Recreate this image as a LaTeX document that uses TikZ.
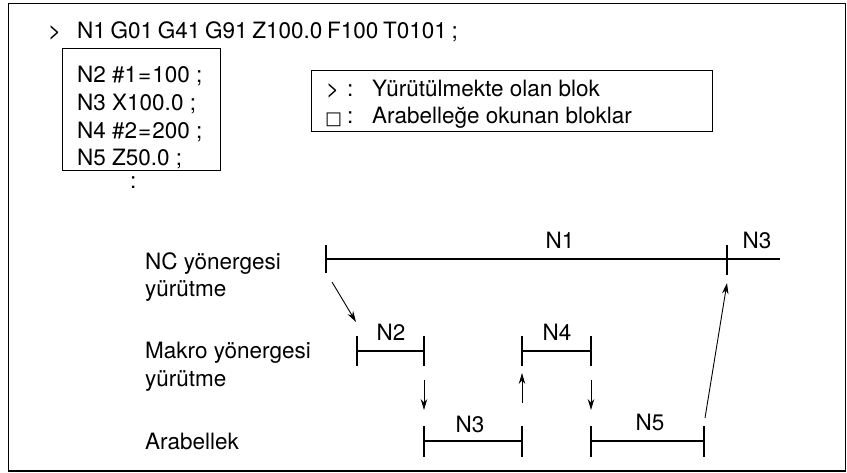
\documentclass[tikz,border=0pt]{standalone}
\usepackage{fontspec}
\setmainfont{TeX Gyre Heros}
\newfontfamily\symfont{DejaVu Sans}
\usetikzlibrary{arrows.meta}
\begin{document}
\begin{tikzpicture}[x=1pt,y=-1pt,
  txt/.style={anchor=base west,inner sep=0pt,font=\fontsize{22.5}{27}\selectfont},
  lbl/.style={anchor=base,inner sep=0pt,font=\fontsize{22.5}{27}\selectfont},
  boxline/.style={draw,line width=1pt},
  tl/.style={line width=2pt},
  arr/.style={line width=0.9pt,-{Stealth[length=11pt,width=6.5pt]}}]
\useasboundingbox (0,0) rectangle (847,473);
\draw[line width=1.2pt] (8.5,3.5) rectangle (845.5,471);
% top program
\node[txt] (cur) at (48,39) {>};
\node[txt] (l1) at (77,39) {\spaceskip=0.21em N1 G01 G41 G91 Z100.0 F100 T0101 ;};
\draw[boxline] (62,49) rectangle (220,171);
\node[txt] (l2) at (77,83) {N2 \#1\kern1pt=\kern1pt100 ;};
\node[txt] (l3) at (77,111) {N3 X100.0 ;};
\node[txt] (l4) at (77,139) {N4 \#2\kern1pt=\kern1pt200 ;};
\node[txt] (l5) at (77,166) {N5 Z50.0 ;};
\node[txt] (dots) at (130,189) {:};
% legend
\draw[boxline] (311,71) rectangle (712,132);
\node[txt] (lg1a) at (326,97) {>};
\node[txt] (lg1b) at (347,97) {:};
\node[txt] (lg1c) at (372,97) {Yürütülmekte olan blok};
\node[txt,font=\symfont\fontsize{18}{22}\selectfont] (lg2a) at (325,125) {□};
\node[txt] (lg2b) at (347,124) {:};
\node[txt] (lg2c) at (372,124) {Arabelleğe okunan bloklar};
% row labels
\node[txt] (r1a) at (145,270) {NC yönergesi};
\node[txt] (r1b) at (145,297) {yürütme};
\node[txt] (r2a) at (145,359) {Makro yönergesi};
\node[txt] (r2b) at (145,386) {yürütme};
\node[txt] (r3) at (145,449) {Arabellek};
% NC timeline
\coordinate (ncL) at (326,259);
\coordinate (ncT) at (727,259);
\coordinate (ncR) at (780,259);
\draw[tl] (ncL) -- (ncR);
\draw[tl] (326,245) -- (326,273);
\draw[tl] (727,245) -- (727,275);
\node[lbl] (tN1) at (560,249) {N1};
\node[lbl] (tN3a) at (757,249) {N3};
% macro timeline
\draw[tl] (357,351) -- (424,351);
\draw[tl] (357,336) -- (357,366);
\draw[tl] (424,336) -- (424,366);
\node[lbl] (tN2) at (391,341) {N2};
\draw[tl] (522,351) -- (591,351);
\draw[tl] (522,336) -- (522,366);
\draw[tl] (591,336) -- (591,366);
\node[lbl] (tN4) at (557,341) {N4};
% buffer timeline
\draw[tl] (424,441) -- (522,441);
\draw[tl] (424,426) -- (424,457);
\draw[tl] (522,426) -- (522,457);
\node[lbl] (tN3) at (470,432) {N3};
\draw[tl] (591,441) -- (704,441);
\draw[tl] (591,426) -- (591,457);
\draw[tl] (704,426) -- (704,457);
\node[lbl] (tN5) at (650,431) {N5};
% arrows
\coordinate (a1s) at (332,282); \coordinate (a1e) at (356,322);
\coordinate (a2s) at (424,380); \coordinate (a2e) at (424,410);
\coordinate (a3s) at (522,403); \coordinate (a3e) at (522,373);
\coordinate (a4s) at (591,380); \coordinate (a4e) at (591,410);
\coordinate (a5s) at (705,418); \coordinate (a5e) at (727,283);
\draw[arr] (a1s) -- (a1e);
\draw[arr] (a2s) -- (a2e);
\draw[arr] (a3s) -- (a3e);
\draw[arr] (a4s) -- (a4e);
\draw[arr] (a5s) -- (a5e);
\end{tikzpicture}
\end{document}
